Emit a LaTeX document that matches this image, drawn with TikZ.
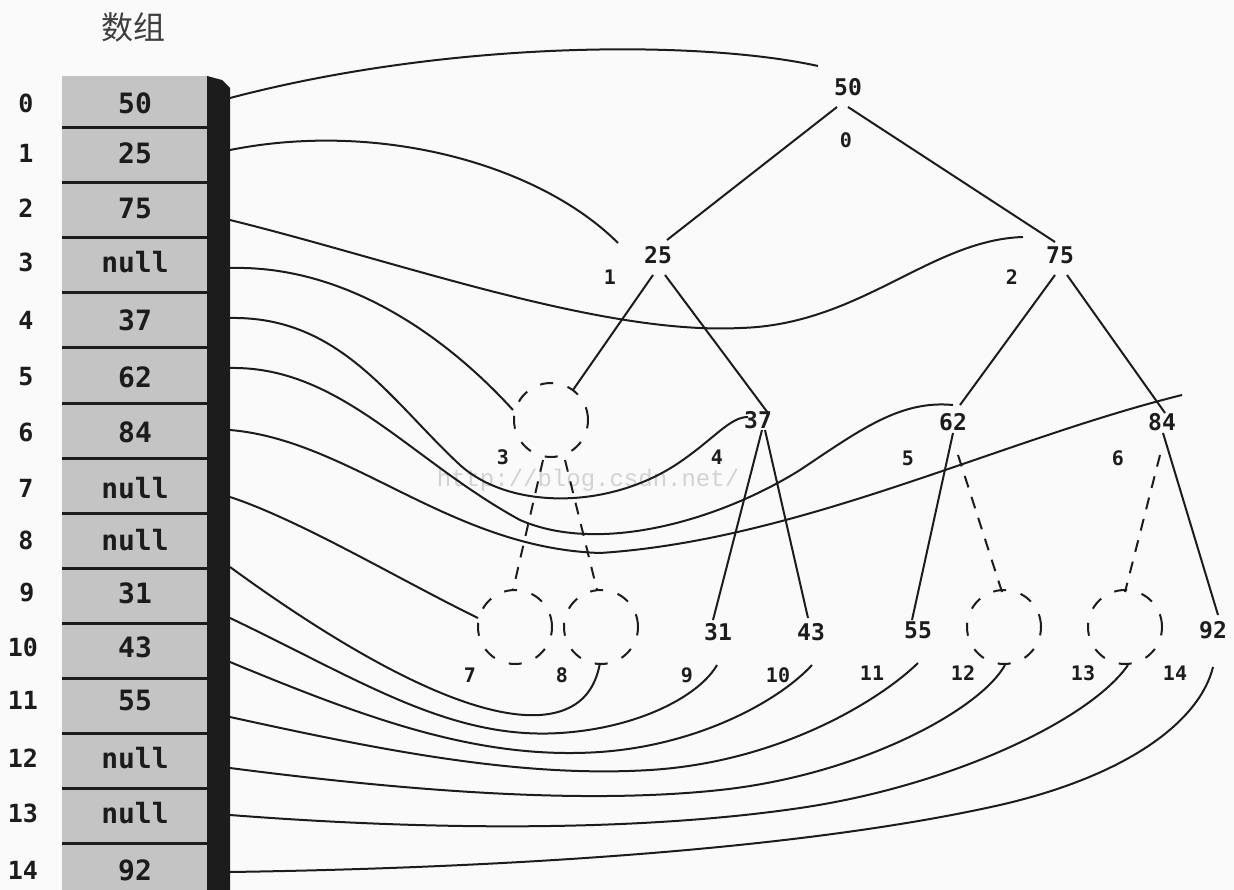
\documentclass[tikz,border=0pt]{standalone}
\usepackage{fontspec}
\setmonofont{DejaVu Sans Mono}
\newfontfamily\cjk{Noto Sans CJK SC}
\newfontfamily\wmfont{Liberation Mono}
\definecolor{bg}{RGB}{250,250,250}
\definecolor{cellgray}{RGB}{196,196,196}
\definecolor{ink}{RGB}{28,28,28}
\tikzset{
  conn/.style={draw=ink, line width=2pt},
  tedge/.style={draw=ink, line width=2pt},
  dedge/.style={draw=ink, line width=2pt, dash pattern=on 12pt off 10pt},
  dcirc/.style={circle, draw=ink, line width=2pt, dash pattern=on 13pt off 15pt, minimum size=74pt, inner sep=0pt},
  tval/.style={font=\ttfamily\bfseries\fontsize{23}{23}\selectfont, text=ink, inner sep=0pt},
  tidx/.style={font=\ttfamily\bfseries\fontsize{20}{20}\selectfont, text=ink, inner sep=0pt},
  cellv/.style={font=\ttfamily\bfseries\fontsize{28}{28}\selectfont, text=ink, inner sep=0pt},
  aidx/.style={font=\ttfamily\bfseries\fontsize{25}{25}\selectfont, text=ink, inner sep=0pt},
}
\begin{document}
\begin{tikzpicture}[x=1pt, y=-1pt]
\useasboundingbox (0,0) rectangle (1234,890);
\fill[bg] (0,0) rectangle (1234,890);

% watermark
\node[font=\wmfont\fontsize{24}{24}\selectfont, text=gray!35, inner sep=0pt] (wm) at (588,480) {http://blog.csdn.net/};

% title
\node[font=\cjk\fontsize{32}{32}\selectfont, text=ink!85, inner sep=0pt] (title) at (133,27) {数组};

% array body
\fill[cellgray] (62,76) rectangle (209,890);
\foreach \k in {0,...,13} \draw[line width=3pt, draw=ink] (62,{128+55*\k}) -- (209,{128+55*\k});
\fill[ink] (207,76) -- (222,80) -- (230,88) -- (230,890) -- (207,890) -- cycle;

% array cells
\node[cellv] (c0) at (135,103) {50};
\node[cellv] (c1) at (135,153) {25};
\node[cellv] (c2) at (135,208) {75};
\node[cellv] (c3) at (135,262) {null};
\node[cellv] (c4) at (135,320) {37};
\node[cellv] (c5) at (135,377) {62};
\node[cellv] (c6) at (135,432) {84};
\node[cellv] (c7) at (135,488) {null};
\node[cellv] (c8) at (135,540) {null};
\node[cellv] (c9) at (135,593) {31};
\node[cellv] (c10) at (135,647) {43};
\node[cellv] (c11) at (135,700) {55};
\node[cellv] (c12) at (135,758) {null};
\node[cellv] (c13) at (135,813) {null};
\node[cellv] (c14) at (135,870) {92};

% array indices
\node[aidx] (k0) at (26,103) {0};
\node[aidx] (k1) at (26,153) {1};
\node[aidx] (k2) at (26,208) {2};
\node[aidx] (k3) at (26,262) {3};
\node[aidx] (k4) at (26,320) {4};
\node[aidx] (k5) at (26,377) {5};
\node[aidx] (k6) at (26,432) {6};
\node[aidx] (k7) at (26,488) {7};
\node[aidx] (k8) at (26,540) {8};
\node[aidx] (k9) at (27,593) {9};
\node[aidx] (k10) at (23,647) {10};
\node[aidx] (k11) at (23,700) {11};
\node[aidx] (k12) at (23,758) {12};
\node[aidx] (k13) at (23,813) {13};
\node[aidx] (k14) at (23,870) {14};

% tree nodes
\node[tval] (n0) at (848,87) {50};
\node[tval] (n1) at (658,255) {25};
\node[tval] (n2) at (1060,255) {75};
\node[dcirc] (n3) at (551,420) {};
\node[tval] (n4) at (758,420) {37};
\node[tval] (n5) at (953,422) {62};
\node[tval] (n6) at (1162,422) {84};
\node[dcirc] (n7) at (515,627) {};
\node[dcirc] (n8) at (601,627) {};
\node[tval] (n9) at (718,632) {31};
\node[tval] (n10) at (811,632) {43};
\node[tval] (n11) at (918,630) {55};
\node[dcirc] (n12) at (1004,627) {};
\node[dcirc] (n13) at (1125,627) {};
\node[tval] (n14) at (1213,630) {92};

% tree index labels
\node[tidx] (i0) at (846,140) {0};
\node[tidx] (i1) at (610,277) {1};
\node[tidx] (i2) at (1012,277) {2};
\node[tidx] (i3) at (503,457) {3};
\node[tidx] (i4) at (717,457) {4};
\node[tidx] (i5) at (908,458) {5};
\node[tidx] (i6) at (1118,458) {6};
\node[tidx] (i7) at (470,675) {7};
\node[tidx] (i8) at (562,675) {8};
\node[tidx] (i9) at (687,675) {9};
\node[tidx] (i10) at (778,675) {10};
\node[tidx] (i11) at (872,673) {11};
\node[tidx] (i12) at (963,673) {12};
\node[tidx] (i13) at (1083,673) {13};
\node[tidx] (i14) at (1175,673) {14};

% tree edges
\draw[tedge] ([shift={(-11,20)}]n0.center) -- ([shift={(9,-15)}]n1.center);
\draw[tedge] ([shift={(0,20)}]n0.center) -- ([shift={(-5,-13)}]n2.center);
\draw[tedge] ([shift={(-5,20)}]n1.center) -- ([shift={(22,-30)}]n3.center);
\draw[tedge] ([shift={(7,20)}]n1.center) -- ([shift={(10,-7)}]n4.center);
\draw[tedge] ([shift={(-5,20)}]n2.center) -- ([shift={(7,-17)}]n5.center);
\draw[tedge] ([shift={(7,20)}]n2.center) -- ([shift={(3,-9)}]n6.center);
\draw[tedge] ([shift={(4,10)}]n4.center) -- ([shift={(-5,-12)}]n9.center);
\draw[tedge] ([shift={(7,10)}]n4.center) -- ([shift={(-3,-14)}]n10.center);
\draw[tedge] ([shift={(0,11)}]n5.center) -- ([shift={(-6,-10)}]n11.center);
\draw[tedge] ([shift={(1,11)}]n6.center) -- ([shift={(5,-15)}]n14.center);
\draw[dedge] ([shift={(-8,40)}]n3.center) -- ([shift={(-2,-37)}]n7.center);
\draw[dedge] ([shift={(14,40)}]n3.center) -- ([shift={(-4,-37)}]n8.center);
\draw[dedge] ([shift={(5,33)}]n5.center) -- ([shift={(-2,-35)}]n12.center);
\draw[dedge] ([shift={(-2,33)}]n6.center) -- ([shift={(0,-35)}]n13.center);

% connectors array -> tree
\draw[conn] ([shift={(95,-5)}]c0.center) .. controls (450,40) and (700,40) .. ([shift={(-30,-21)}]n0.center);
\draw[conn] ([shift={(95,-3)}]c1.center) .. controls (380,120) and (540,165) .. ([shift={(-40,-12)}]n1.center);
\draw[conn] ([shift={(95,12)}]c2.center) .. controls (400,262) and (600,335) .. (740,328) .. controls (860,325) and (930,240) .. ([shift={(-37,-18)}]n2.center);
\draw[conn] ([shift={(95,6)}]c3.center) .. controls (340,265) and (440,330) .. ([shift={(-38,-10)}]n3.center);
\draw[conn] ([shift={(95,-2)}]c4.center) .. controls (340,316) and (390,400) .. (460,465) .. controls (510,510) and (610,510) .. (680,462) .. controls (715,438) and (730,417) .. ([shift={(-10,-3)}]n4.center);
\draw[conn] ([shift={(95,-9)}]c5.center) .. controls (340,366) and (410,460) .. (520,520) .. controls (600,555) and (720,520) .. (800,470) .. controls (860,430) and (900,400) .. ([shift={(0,-17)}]n5.center);
\draw[conn] ([shift={(95,-2)}]c6.center) .. controls (350,440) and (450,548) .. (600,553) .. controls (800,540) and (1000,440) .. ([shift={(20,-27)}]n6.center);
\draw[conn] ([shift={(95,9)}]c7.center) .. controls (300,520) and (400,580) .. ([shift={(-37,-9)}]n7.center);
\draw[conn] ([shift={(95,27)}]c8.center) .. controls (330,640) and (460,720) .. (540,715) .. controls (580,712) and (595,690) .. ([shift={(-1,36)}]n8.center);
\draw[conn] ([shift={(95,25)}]c9.center) .. controls (360,680) and (450,740) .. (560,733) .. controls (640,728) and (700,695) .. ([shift={(-1,33)}]n9.center);
\draw[conn] ([shift={(95,15)}]c10.center) .. controls (370,720) and (480,760) .. (600,752) .. controls (700,745) and (780,700) .. ([shift={(1,33)}]n10.center);
\draw[conn] ([shift={(95,17)}]c11.center) .. controls (380,750) and (520,778) .. (650,770) .. controls (780,762) and (880,700) .. ([shift={(0,33)}]n11.center);
\draw[conn] ([shift={(95,10)}]c12.center) .. controls (400,790) and (580,805) .. (720,790) .. controls (860,775) and (980,710) .. ([shift={(1,38)}]n12.center);
\draw[conn] ([shift={(95,2)}]c13.center) .. controls (450,832) and (650,830) .. (800,808) .. controls (950,786) and (1090,720) .. ([shift={(3,38)}]n13.center);
\draw[conn] ([shift={(95,2)}]c14.center) .. controls (500,868) and (800,850) .. (1000,805) .. controls (1130,775) and (1200,720) .. ([shift={(0,37)}]n14.center);
\end{tikzpicture}
\end{document}
